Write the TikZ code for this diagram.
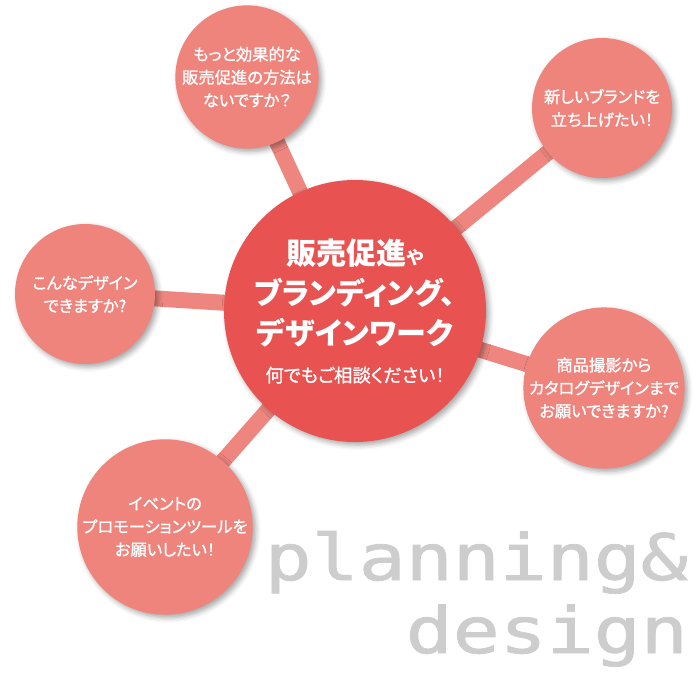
\documentclass[tikz,border=0pt]{standalone}
\usepackage{fontspec}
\newfontfamily\jp[RawFeature=+palt]{Noto Sans CJK JP}
\newfontfamily\jpmid[RawFeature=+palt,FakeBold=1.2]{Noto Sans CJK JP}
\newfontfamily\decomono[FakeBold=1.2]{DejaVu Sans Mono}
\usetikzlibrary{backgrounds,shadows.blur}
\definecolor{smallc}{HTML}{EF847D}
\definecolor{mainc}{HTML}{E85250}
\definecolor{barc}{HTML}{EE867F}
\definecolor{decoc}{HTML}{CDCDCD}
\tikzset{
  softshadow/.style={blur shadow={shadow xshift=3pt, shadow yshift=-3pt, shadow blur radius=5pt, shadow opacity=35}},
  smallcircle/.style={circle, minimum size=140pt, inner sep=0pt, fill=smallc, text=white, align=center,
    font=\jpmid\mdseries\fontsize{16.3}{23}\selectfont, softshadow},
  maincircle/.style={circle, minimum size=262pt, inner sep=0pt, fill=mainc, text=white, align=center,
    font=\jp\bfseries\fontsize{30}{40}\selectfont, softshadow},
  bar/.style={line width=16pt, draw=barc},
  deco/.style={text=decoc, font=\decomono\fontsize{64}{64}\selectfont, inner sep=0pt, anchor=base east}
}
\begin{document}
\begin{tikzpicture}[x=1pt,y=-1pt]
\useasboundingbox (0,0) rectangle (699,673);
\node[maincircle] (c) at (355,311) {販売促進{\fontsize{18}{40}\selectfont や}\\ブランディング、\\デザインワーク\\[-2pt]{\jpmid\mdseries\fontsize{18.3}{24}\selectfont 何でもご相談ください！}};
\node[smallcircle] (n1) at (247,77) {もっと効果的な\\販売促進の方法は\\ないですか？};
\node[smallcircle] (n2) at (602,108) {新しいブランドを\\立ち上げたい！};
\node[smallcircle] (n3) at (85,294) {こんなデザイン\\できますか?};
\node[smallcircle] (n4) at (604,388) {商品撮影から\\カタログデザインまで\\お願いできますか?};
\node[smallcircle] (n5) at (165,527) {イベントの\\プロモーションツールを\\お願いしたい！};
\begin{scope}[on background layer]
  \draw[bar] (c.center) -- (n1.center);
  \draw[bar] (c.center) -- (n2.center);
  \draw[bar] (c.center) -- (n3.center);
  \draw[bar] (c.center) -- (n4.center);
  \draw[bar] (c.center) -- (n5.center);
\end{scope}
\node[deco] (p1) at (688,580) {\scalebox{1.22}[1]{planning\&}};
\node[deco] (p2) at (688,653) {\scalebox{1.22}[1]{design}};
\end{tikzpicture}
\end{document}
